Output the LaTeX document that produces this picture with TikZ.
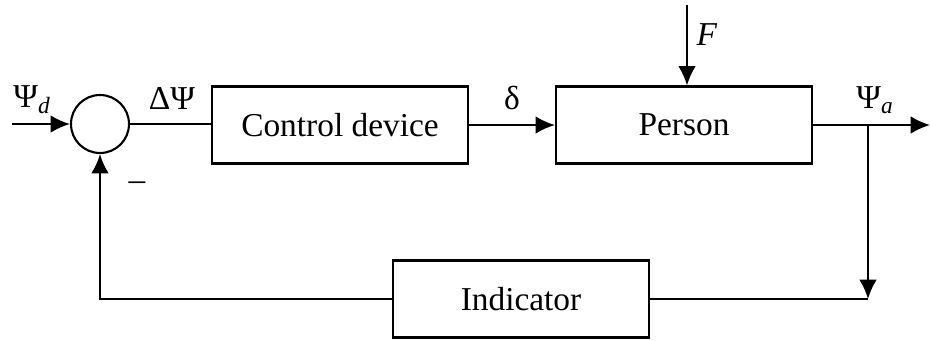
\documentclass[tikz,border=0pt]{standalone}
\usepackage{fontspec}
\setmainfont{Liberation Serif}
\usetikzlibrary{arrows.meta}

\tikzset{
  block/.style={draw, line width=1.2pt, minimum width=5.12cm, minimum height=1.54cm,
    font=\fontsize{19}{22}\selectfont},
  sumnode/.style={draw, circle, line width=1.2pt, minimum size=1.16cm, inner sep=0pt},
  sig/.style={font=\fontsize{19}{22}\selectfont},
  wire/.style={line width=1.2pt},
  arr/.style={wire, -{Latex[length=11pt,width=10pt]}},
}

\begin{document}
\begin{tikzpicture}
  \useasboundingbox (0,0) rectangle (18.6,-6.8);
  % blocks
  \node[sumnode] (sum) at (2.0,-2.48) {};
  \node[block] (ctrl) at (6.8,-2.5) {Control device};
  \node[block] (pers) at (13.68,-2.5) {Person};
  \node[block] (ind) at (10.42,-5.98) {Indicator};
  % free ends
  \coordinate (in) at (0.24,-2.48);
  \coordinate (ftop) at (13.74,-0.1);
  \coordinate (out) at (18.6,-2.5);
  \coordinate (br) at (17.36,-2.5);
  \coordinate (brlow) at (17.36,-5.98);
  \coordinate (fbl) at (2.0,-5.98);
  % connections
  \draw[arr] (in) -- (sum.west);
  \draw[wire] (sum.east) -- (ctrl.west |- sum.east);
  \draw[arr] (ctrl.east) -- (pers.west);
  \draw[arr] (ftop) -- (ftop |- pers.north);
  \draw[arr] (pers.east) -- (out);
  \draw[arr] (br) -- (brlow);
  \draw[wire] (brlow) -- (ind.east);
  \draw[arr] (ind.west) -- (fbl) -- (sum.south);
  % labels
  \node[sig] (lpsid) at (0.64,-2.0) {Ψ\textsubscript{\textit{d}}};
  \node[sig] (ldpsi) at (3.44,-1.96) {ΔΨ};
  \node[sig] (ldelta) at (10.24,-1.96) {δ};
  \node[sig] (lf) at (14.14,-0.7) {\textit{F}};
  \node[sig] (lpsia) at (17.5,-2.0) {Ψ\textsubscript{\textit{a}}};
  \node[sig] (lminus) at (2.74,-3.72) {–};
\end{tikzpicture}
\end{document}
